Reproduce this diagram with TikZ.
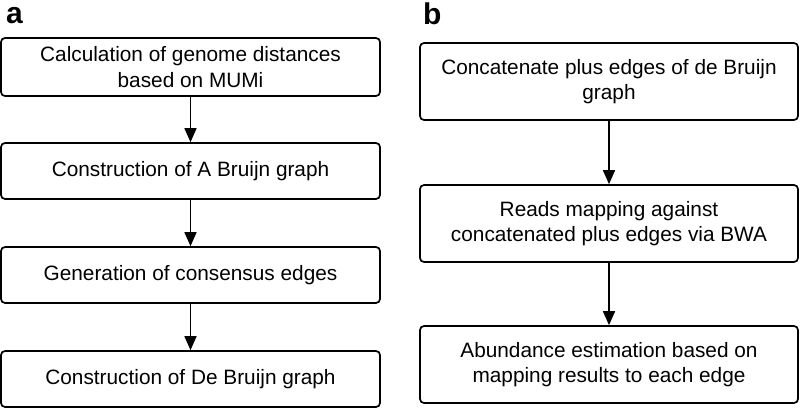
\documentclass[tikz,border=0pt]{standalone}
\usepackage{fontspec}
\setmainfont{Liberation Sans}
\usetikzlibrary{arrows.meta}
\begin{document}
\begin{tikzpicture}[x=1bp,y=-1bp,
  box/.style={draw, line width=1.7bp, rounded corners=4bp, align=center, inner sep=0pt,
    font=\fontsize{20.8bp}{25.5bp}\selectfont},
  lbox/.style={box, minimum width=379bp},
  rbox/.style={box, minimum width=378bp, minimum height=77bp},
  conn/.style={line width=1.7bp, -{Triangle[width=12bp,length=14bp]}},
  panel/.style={inner sep=0pt, anchor=base west, font=\fontsize{30bp}{30bp}\selectfont\bfseries}]
\useasboundingbox (0,0) rectangle (800,409);
\node[panel] (la) at (6,23) {a};
\node[panel] (lb) at (423,24) {b};
\node[lbox, minimum height=58bp] (a1) at (190.5,67) {Calculation of genome distances\\based on MUMi};
\node[lbox, minimum height=56bp] (a2) at (190.5,171) {Construction of A Bruijn graph};
\node[lbox, minimum height=56bp] (a3) at (190.5,275) {Generation of consensus edges};
\node[lbox, minimum height=56bp] (a4) at (190.5,379) {Construction of De Bruijn graph};
\node[rbox] (b1) at (609,81.5) {Concatenate plus edges of de Bruijn\\graph};
\node[rbox] (b2) at (609,223.5) {Reads mapping against\\concatenated plus edges via BWA};
\node[rbox] (b3) at (609,364.5) {Abundance estimation based on\\mapping results to each edge};
\draw[conn] (a1) -- (a2);
\draw[conn] (a2) -- (a3);
\draw[conn] (a3) -- (a4);
\draw[conn] (b1) -- (b2);
\draw[conn] (b2) -- (b3);
\end{tikzpicture}
\end{document}
